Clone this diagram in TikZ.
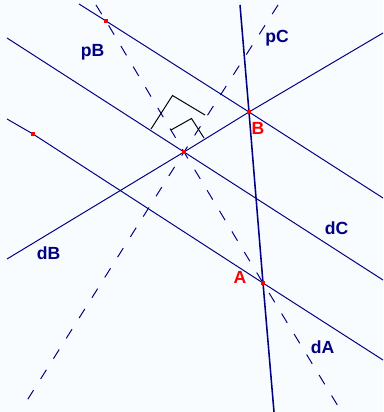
\documentclass[tikz,border=0pt]{standalone}
\usepackage{fontspec}
\setmainfont{Liberation Sans}
\definecolor{navy}{RGB}{0,0,128}
\definecolor{paper}{RGB}{248,252,255}
\begin{document}
\begin{tikzpicture}[x=0.025cm,y=-0.025cm,
  line/.style={navy,line width=0.7pt},
  perp/.style={navy,line width=0.7pt,dash pattern=on 0.27cm off 0.33cm},
  corner/.style={black,line width=0.7pt},
  pt/.style={rectangle,fill=red,minimum size=0.1cm,inner sep=0pt},
  lab/.style={navy,font=\fontsize{12.5}{14}\selectfont\bfseries},
  redlab/.style={red,font=\fontsize{12.5}{14}\selectfont\bfseries}]
\useasboundingbox[fill=paper] (0,0) rectangle (383,412);
\coordinate (O) at (184,152);
\coordinate (A) at (263,283);
\coordinate (B) at (249,112);
\coordinate (P) at (106,21);
\coordinate (Q) at (33,134);
\coordinate (dC1) at (7,38);  \coordinate (dC2) at (383,280);
\coordinate (dB1) at (7,259); \coordinate (dB2) at (383,33);
\coordinate (dA1) at (7,119); \coordinate (dA2) at (383,360);
\coordinate (tB1) at (79,4);  \coordinate (tB2) at (383,198);
\coordinate (pB1) at (96,5);  \coordinate (pB2) at (341,411);
\coordinate (pC1) at (278,5); \coordinate (pC2) at (21,410);
\coordinate (v1) at (240,5);  \coordinate (v2) at (274,412);
\draw[line] (dC1)--(O)--(dC2);
\draw[line] (dB1)--(O)--(B)--(dB2);
\draw[line] (dA1)--(Q)--(A)--(dA2);
\draw[line] (tB1)--(P)--(B)--(tB2);
\draw[perp] (pB1)--(P)--(O)--(A)--(pB2);
\draw[perp] (pC1)--(O)--(pC2);
\draw[navy,line width=1.1pt] (v1)--(B)--(A)--(v2);
\draw[corner] (151,129)--(172.5,95.5)--(205,115);
\draw[corner] (171,130)--(191.5,118.5)--(204,138);
\node[pt] (mO) at (O) {};
\node[pt] (mA) at (A) {};
\node[pt] (mB) at (B) {};
\node[pt] (mP) at (P) {};
\node[pt] (mQ) at (Q) {};
\node[lab] (lpB) at (92.5,52) {pB};
\node[lab] (lpC) at (277,38) {pC};
\node[lab] (ldC) at (336.5,228) {dC};
\node[lab] (ldB) at (48.5,253) {dB};
\node[lab] (ldA) at (322.5,347) {dA};
\node[redlab] (lB) at (258,128.5) {B};
\node[redlab] (lA) at (240,277.5) {A};
\end{tikzpicture}
\end{document}
